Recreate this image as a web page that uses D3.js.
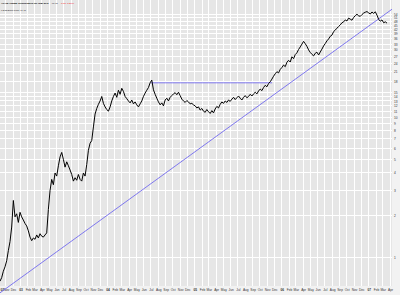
<!DOCTYPE html>
<html>
<head>
<meta charset="utf-8">
<script src="https://cdn.jsdelivr.net/npm/d3@7"></script>
<style>
  body { margin: 0; background: #fff; }
  text { font-family: "Liberation Sans", Arial, sans-serif; }
</style>
</head>
<body>
<script>
// weekly closes, first week starting 2002-10-07
const firstWeek = '2002-10-07';
const closes = [
  // 2002 Q4
  0.68, 0.72, 0.80, 0.86, 0.95, 1.12, 1.30, 1.65, 2.55, 1.95, 2.05, 1.78, 2.10,
  // 2003
  1.95, 1.85, 1.75, 1.68, 1.55, 1.40, 1.32, 1.38, 1.35, 1.45, 1.38, 1.48, 1.42,
  1.40, 1.45, 1.50, 2.2, 3.0, 3.6, 3.3, 4.0, 3.8, 4.5, 5.2, 5.6, 5.0, 4.4,
  4.8, 4.5, 4.2, 3.9, 3.5, 3.7, 3.55, 3.9, 3.6, 3.5, 4.0, 3.8, 4.6, 5.8,
  6.5, 6.8, 8.5, 10.5, 11.5, 12.3, 13.0, 14.0, 12.5, 11.8, 11.3,
  // 2004
  11.0, 11.8, 13.0, 14.0, 14.8, 13.8, 15.5, 14.5, 16.0, 15.2, 14.0, 13.5, 13.0,
  12.6, 13.2, 12.4, 12.8, 12.2, 11.8, 12.4, 13.0, 14.0, 14.8, 15.5, 16.2, 17.5,
  18.3, 15.6, 14.5, 13.6, 12.8, 12.2, 12.6, 12.0, 13.2, 13.6, 13.0, 13.8, 14.2,
  14.6, 14.9, 14.4, 15.0, 14.2, 13.4, 13.0, 12.7, 13.1, 12.8, 12.4, 12.5, 12.2,
  // 2005
  12.0, 11.6, 11.8, 11.2, 11.5, 11.0, 10.8, 11.3, 10.9, 10.6, 11.1, 10.7, 11.4,
  11.9, 11.6, 12.3, 12.8, 12.5, 13.0, 12.7, 13.2, 12.9, 13.4, 13.8, 13.3, 13.7,
  14.1, 13.6, 13.2, 13.8, 14.2, 13.7, 14.0, 14.5, 14.1, 14.6, 15.0, 14.6, 15.3,
  15.8, 15.4, 16.2, 16.8, 16.4, 17.3, 17.8, 18.6, 19.5, 20.3, 21.0, 20.6, 21.8,
  // 2006
  22.5, 23.4, 22.8, 24.5, 25.3, 24.6, 26.8, 26.0, 27.8, 28.6, 30.2, 31.5, 33.0,
  34.5, 33.2, 31.8, 30.0, 28.8, 27.9, 27.2, 28.4, 28.9, 27.6, 29.0, 30.4, 32.0,
  33.3, 34.8, 35.9, 37.5, 38.2, 40.5, 41.5, 42.8, 44.0, 45.2, 46.8, 47.5, 49.0,
  48.2, 50.5, 49.6, 48.8, 51.0, 52.6, 53.8, 52.4, 52.0, 53.5, 54.8, 55.6, 56.2,
  // 2007
  55.0, 54.0, 55.8, 54.5, 56.0, 53.0, 49.5, 48.0, 49.0, 46.8, 47.5, 46.5
];

// trend line (start, end) and flat resistance line
const trendDates = ['2002-10-07', '2007-04-09'];
const trendPrices = [0.562, 58.4];
const flatDates = ['2004-07-02', '2005-11-22'];
const flatPrice = 17.5;

const priceTicks = [1, 2, 3, 4, 5, 6, 7, 8, 9, 10, 11, 12, 13, 14, 15,
  18, 21, 24, 27, 30, 33, 36, 39, 42, 45, 48, 51, 54];

const titleParts = ['AKAM Akamai Technologies Inc (NQ) EPS', '46.48', '-0.11  -0.24%'];
const subTitle = '\u25AA 3/15/2007 Price 46.48';

const W = 400, H = 295;
const plotR = 392, plotB = 286;

const parse = d3.utcParse('%Y-%m-%d');
const t0 = parse(firstWeek);
const series = closes.map((c, i) => ({ date: d3.utcDay.offset(t0, i * 7), close: c }));

const x = d3.scaleUtc()
  .domain([parse('2002-10-07'), parse('2007-04-09')])
  .range([0, plotR]);

const y = d3.scaleLog()
  .domain([10, 54])
  .range([117, 14]);

const svg = d3.select('body').append('svg')
  .attr('width', W)
  .attr('height', H);

// backgrounds
svg.append('rect').attr('width', W).attr('height', H).attr('fill', '#f2f2f2');
svg.append('rect').attr('width', plotR).attr('height', plotB).attr('fill', '#e6e6e6');

// grid
const months = d3.utcMonth.range(x.domain()[0], x.domain()[1]);
svg.append('g').selectAll('line')
  .data(months)
  .enter().append('line')
  .attr('x1', d => x(d)).attr('x2', d => x(d))
  .attr('y1', 0).attr('y2', plotB)
  .attr('stroke', '#fff').attr('stroke-width', 1)
  .attr('shape-rendering', 'crispEdges');

svg.append('g').selectAll('line')
  .data(priceTicks)
  .enter().append('line')
  .attr('x1', 0).attr('x2', plotR)
  .attr('y1', d => y(d)).attr('y2', d => y(d))
  .attr('stroke', '#fff').attr('stroke-width', 1)
  .attr('shape-rendering', 'crispEdges');

// axes
const fmtMonth = d3.utcFormat('%b');
const fmtYear = d3.utcFormat('%y');
const xTicks = [x.domain()[0]].concat(months);
const isYear = d => d.getUTCMonth() === 0 || d === xTicks[0];
const xAxis = d3.axisBottom(x)
  .tickValues(xTicks)
  .tickSize(0)
  .tickPadding(3)
  .tickFormat(d => isYear(d) ? fmtYear(d) : fmtMonth(d));

const gx = svg.append('g')
  .attr('transform', `translate(0,${plotB})`)
  .call(xAxis);
gx.select('.domain').remove();
gx.selectAll('text')
  .attr('font-size', 3.2)
  .attr('fill', '#333')
  .attr('font-weight', d => isYear(d) ? 'bold' : 'normal')
  .attr('text-anchor', d => d === xTicks[0] ? 'start' : 'middle');

const yAxis = d3.axisRight(y)
  .tickValues(priceTicks)
  .tickSize(0)
  .tickPadding(2)
  .tickFormat(d3.format('d'));

const gy = svg.append('g')
  .attr('transform', `translate(${plotR},0)`)
  .call(yAxis);
gy.select('.domain').remove();
gy.selectAll('text').attr('font-size', 3.2).attr('fill', '#333');

// trend lines
svg.append('line')
  .attr('x1', x(parse(trendDates[0]))).attr('y1', y(trendPrices[0]))
  .attr('x2', x(parse(trendDates[1]))).attr('y2', y(trendPrices[1]))
  .attr('stroke', '#7f78ee').attr('stroke-width', 1);

svg.append('line')
  .attr('x1', x(parse(flatDates[0]))).attr('y1', y(flatPrice))
  .attr('x2', x(parse(flatDates[1]))).attr('y2', y(flatPrice))
  .attr('stroke', '#7f78ee').attr('stroke-width', 1);

// price
const line = d3.line()
  .x(d => x(d.date))
  .y(d => y(d.close));

svg.append('path')
  .datum(series)
  .attr('d', line)
  .attr('fill', 'none')
  .attr('stroke', '#000')
  .attr('stroke-width', 1);

// header
const head = svg.append('text').attr('x', 1).attr('y', 4).attr('font-size', 2.4);
head.append('tspan').attr('font-weight', 'bold').attr('fill', '#000').text(titleParts[0]);
head.append('tspan').attr('dx', 3).attr('fill', '#000').text(titleParts[1]);
head.append('tspan').attr('dx', 3).attr('fill', '#e00').text(titleParts[2]);

svg.append('text')
  .attr('x', 1).attr('y', 10.5)
  .attr('font-size', 2.4)
  .attr('fill', '#111')
  .text(subTitle);
</script>
</body>
</html>
